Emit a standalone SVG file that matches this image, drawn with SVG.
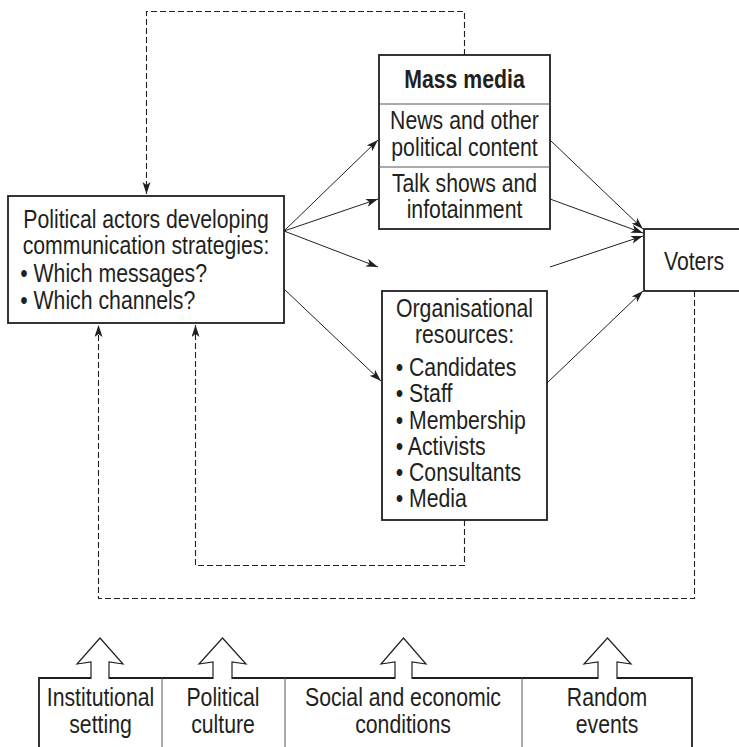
<svg xmlns="http://www.w3.org/2000/svg" width="739" height="747" viewBox="0 0 739 747">
<style>
.t{font-family:"Liberation Sans",Arial,Helvetica,sans-serif;font-size:25px;fill:#231f20}
.c{text-anchor:middle}
.b{font-weight:bold}
.box{fill:#fff;stroke:#231f20;stroke-width:1.8}
.div{stroke:#555;stroke-width:1;fill:none}
.arr{stroke:#231f20;stroke-width:1;fill:none;marker-end:url(#ah)}
.dash{stroke:#231f20;stroke-width:1.1;fill:none;stroke-dasharray:6 3}
.blk{fill:#fff;stroke:#231f20;stroke-width:1.2;stroke-linejoin:miter}
</style>
<defs>
<marker id="ah" markerUnits="userSpaceOnUse" markerWidth="13" markerHeight="9" refX="12" refY="4" orient="auto">
<path d="M0,0 L12,4 L0,8 L3,4 Z" fill="#231f20"/>
</marker>
</defs>
<rect width="739" height="747" fill="#fff"/>

<g id="connectors">
<path class="arr" d="M284,231 L378,140"/>
<path class="arr" d="M284,231 L378,199"/>
<path class="arr" d="M284,231 L378,267"/>
<path class="arr" d="M284,289 L381,381"/>
<path class="arr" d="M550,140 L643,229"/>
<path class="arr" d="M550,199 L643,233"/>
<path class="arr" d="M550,267 L643,236"/>
<path class="arr" d="M547,383 L643,291"/>
<path class="dash" d="M464.5,55 V11.5 H146.5 V194" marker-end="url(#ah)"/>
<path class="dash" d="M464.5,520 V565.5 H195.5 V325" marker-end="url(#ah)"/>
<path class="dash" d="M694.5,291 V598.5 H98.5 V325" marker-end="url(#ah)"/>
</g>

<g id="political-actors">
<rect class="box" x="8" y="196" width="276" height="127"/>
<g transform="translate(146,0) scale(0.85,1)">
<text class="t c" x="0" y="228">Political actors developing</text>
<text class="t c" x="0" y="254">communication strategies:</text>
<text class="t" x="-148" y="282">• Which messages?</text>
<text class="t" x="-148" y="309">• Which channels?</text>
</g>
</g>

<g id="mass-media">
<rect class="box" x="379" y="55" width="171" height="174"/>
<line class="div" x1="379" y1="104" x2="550" y2="104"/>
<line class="div" x1="379" y1="167" x2="550" y2="167"/>
<g transform="translate(464.5,0) scale(0.85,1)">
<text class="t c b" x="0" y="88">Mass media</text>
<text class="t c" x="0" y="129">News and other</text>
<text class="t c" x="0" y="156">political content</text>
<text class="t c" x="0" y="192">Talk shows and</text>
<text class="t c" x="0" y="218">infotainment</text>
</g>
</g>

<g id="organisational-resources">
<rect class="box" x="382" y="291" width="165" height="229"/>
<g transform="translate(464.5,0) scale(0.85,1)">
<text class="t c" x="0" y="317">Organisational</text>
<text class="t c" x="0" y="343">resources:</text>
<text class="t" x="-81" y="376">• Candidates</text>
<text class="t" x="-81" y="402">• Staff</text>
<text class="t" x="-81" y="429">• Membership</text>
<text class="t" x="-81" y="455">• Activists</text>
<text class="t" x="-81" y="481">• Consultants</text>
<text class="t" x="-81" y="507">• Media</text>
</g>
</g>

<g id="voters">
<rect class="box" x="644" y="229" width="100" height="62"/>
<text class="t c" transform="translate(694,270) scale(0.85,1)" x="0" y="0">Voters</text>
</g>

<g id="context">
<path d="M39,750 V678 H91 M109,678 H213 M232,678 H395 M412,678 H598 M617,678 H692 V750" fill="none" stroke="#231f20" stroke-width="1.8"/>
<line class="div" x1="162" y1="678" x2="162" y2="750"/>
<line class="div" x1="285" y1="678" x2="285" y2="750"/>
<line class="div" x1="522" y1="678" x2="522" y2="750"/>
<g id="arrow-institutional"><path class="blk" d="M91,679 V662 L77,664 L100,638 L123,664 L109,662 V679"/></g>
<g id="arrow-political"><path class="blk" d="M213,679 V662 L199,664 L222.5,638 L246,664 L232,662 V679"/></g>
<g id="arrow-social"><path class="blk" d="M395,679 V662 L381,664 L403.5,638 L426,664 L412,662 V679"/></g>
<g id="arrow-random"><path class="blk" d="M598,679 V662 L584,664 L607.5,638 L631,664 L617,662 V679"/></g>
<g id="institutional-setting" transform="translate(100.5,0) scale(0.85,1)">
<text class="t c" x="0" y="706">Institutional</text>
<text class="t c" x="0" y="733">setting</text>
</g>
<g id="political-culture" transform="translate(223,0) scale(0.85,1)">
<text class="t c" x="0" y="706">Political</text>
<text class="t c" x="0" y="733">culture</text>
</g>
<g id="social-economic" transform="translate(403,0) scale(0.85,1)">
<text class="t c" x="0" y="706">Social and economic</text>
<text class="t c" x="0" y="733">conditions</text>
</g>
<g id="random-events" transform="translate(607,0) scale(0.85,1)">
<text class="t c" x="0" y="706">Random</text>
<text class="t c" x="0" y="733">events</text>
</g>
</g>
</svg>
